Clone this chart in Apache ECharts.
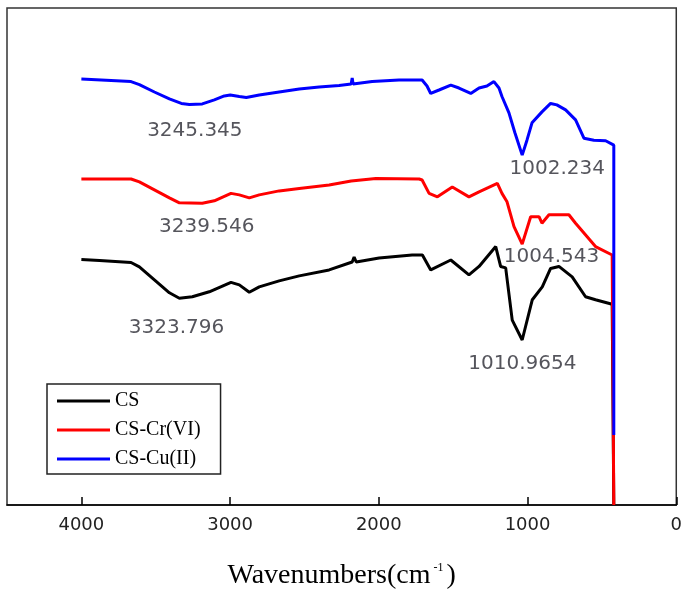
<!DOCTYPE html>
<html><head><meta charset="utf-8">
<script src="https://cdn.jsdelivr.net/npm/echarts@6/dist/echarts.min.js"></script>
<style>html,body{margin:0;padding:0;background:#fff}#c{width:685px;height:595px}</style>
</head><body><div id="c"></div>
<script>
// Series names and colours
const seriesNames = ['CS', 'CS-Cr(VI)', 'CS-Cu(II)'];
const seriesColors = ['#000000', '#ff0000', '#0000ff'];

// CS (black) — wavenumber (cm-1) and transmittance (arb. units)
const csWave = [4000, 3878, 3666, 3610, 3509, 3408, 3341, 3254, 3140, 2994, 2938, 2871, 2804, 2670, 2535, 2334, 2179, 2166, 2152, 1998, 1776, 1707, 1651, 1516, 1394, 1326, 1214, 1181, 1147, 1103, 1036, 968, 901, 845, 789, 700, 610, 543, 431, 420, 420];
const csT    = [49.4, 49.2, 48.8, 47.9, 45.3, 42.7, 41.6, 41.9, 42.9, 44.8, 44.3, 42.8, 43.9, 45.1, 46.1, 47.3, 48.9, 49.9, 48.9, 49.7, 50.3, 50.3, 47.3, 49.3, 46.3, 48.0, 52.0, 48.0, 47.7, 37.2, 33.2, 41.3, 43.9, 47.6, 48.0, 45.9, 41.9, 41.3, 40.4, 40.2, 0];

// CS-Cr(VI) (red)
const crWave = [4000, 3666, 3610, 3509, 3408, 3341, 3187, 3106, 2994, 2938, 2871, 2804, 2670, 2535, 2334, 2186, 2179, 2173, 2020, 1729, 1709, 1662, 1606, 1506, 1394, 1326, 1203, 1172, 1138, 1091, 1036, 979, 923, 903, 856, 722, 677, 543, 431, 420, 420];
const crT    = [65.6, 65.6, 65.0, 63.4, 61.8, 60.8, 60.7, 61.2, 62.7, 62.4, 61.8, 62.4, 63.2, 63.7, 64.4, 65.2, 65.6, 65.1, 65.7, 65.6, 65.4, 62.7, 62.0, 64.0, 62.0, 63.0, 64.7, 62.7, 61.0, 56.0, 52.5, 58.0, 58.0, 56.7, 58.4, 58.4, 56.7, 52.0, 50.3, 50.1, 0];

// CS-Cu(II) (blue)
const cuWave = [4000, 3666, 3610, 3509, 3408, 3328, 3274, 3187, 3106, 3039, 2999, 2938, 2891, 2804, 2670, 2535, 2401, 2267, 2186, 2179, 2173, 2045, 1864, 1729, 1709, 1676, 1651, 1595, 1516, 1461, 1382, 1326, 1273, 1226, 1192, 1172, 1125, 1085, 1036, 1004, 970, 903, 845, 803, 744, 677, 621, 554, 475, 420, 420];
const cuT    = [85.7, 85.2, 84.6, 83.1, 81.7, 80.8, 80.6, 80.7, 81.5, 82.3, 82.5, 82.2, 82.0, 82.5, 83.1, 83.7, 84.1, 84.4, 84.7, 85.9, 84.7, 85.2, 85.5, 85.5, 85.5, 84.3, 82.8, 83.5, 84.5, 83.9, 82.8, 83.9, 84.3, 85.2, 83.9, 82.2, 78.9, 74.9, 70.4, 73.4, 76.9, 79.1, 80.8, 80.5, 79.5, 77.5, 73.8, 73.4, 73.3, 72.4, 14.1];

// Peak annotations (text, wavenumber position, transmittance position)
const peakText = ['3245.345', '3239.546', '3323.796', '1002.234', '1004.543', '1010.9654'];
const peakWave = [3237, 3157, 3360, 800, 839, 1035];
const peakT    = [75.3, 55.9, 35.6, 67.6, 50.0, 28.5];

// Axis
const xMin = 0, xMax = 4500, xInterval = 1000;
const xTickLabels = ['0', '1000', '2000', '3000', '4000'];
const xTitle = 'Wavenumbers(cm';

const zip = (a, b) => a.map((v, i) => [v, b[i]]);
const waves = [csWave, crWave, cuWave];
const vals = [csT, crT, cuT];

const lineSeries = seriesNames.map((n, i) => ({
  name: n, type: 'line', data: zip(waves[i], vals[i]),
  showSymbol: false, symbol: 'none', smooth: false, z: 2 + i,
  lineStyle: { color: seriesColors[i], width: 3 },
  itemStyle: { color: seriesColors[i] }
}));

const labelSeries = {
  name: 'peaks', type: 'scatter', silent: true, z: 10,
  symbolSize: 1, itemStyle: { color: 'rgba(0,0,0,0)' },
  data: peakWave.map((w, i) => [w, peakT[i], peakText[i]]),
  label: {
    show: true, position: 'inside', formatter: p => p.data[2],
    fontFamily: 'DejaVu Sans', fontSize: 20, color: '#2a2a33'
  }
};

const chart = echarts.init(document.getElementById('c'), null, { renderer: 'canvas' });
chart.setOption({
  backgroundColor: '#ffffff',
  animation: false,
  grid: { left: 7, right: 8, top: 8, bottom: 90, show: true, borderColor: '#333', borderWidth: 1.5 },
  legend: {
    data: seriesNames, orient: 'vertical', left: 47, top: 384,
    padding: [7, 20, 5, 10], itemGap: 9, itemWidth: 53, itemHeight: 3,
    icon: 'rect', borderColor: '#222', borderWidth: 1.5,
    textStyle: { fontFamily: 'Liberation Serif', fontSize: 20, color: '#000' }
  },
  xAxis: {
    type: 'value', min: xMin, max: xMax, interval: xInterval, inverse: true,
    axisLine: { show: true, lineStyle: { color: '#000', width: 1.5 } },
    axisTick: { show: true, inside: true, length: 8, lineStyle: { color: '#000', width: 1.5 } },
    splitLine: { show: false },
    axisLabel: {
      margin: 11, fontFamily: 'DejaVu Sans', fontSize: 18, color: '#222',
      showMaxLabel: false,
      formatter: v => xTickLabels.indexOf(String(v)) >= 0 ? String(v) : ''
    },
    name: '{a|' + xTitle + '}{b|-1}{a|)}', nameLocation: 'middle', nameGap: 57,
    nameTextStyle: {
      rich: {
        a: { fontFamily: 'Liberation Serif', fontSize: 28, color: '#000' },
        b: { fontFamily: 'Liberation Serif', fontSize: 12, color: '#000', verticalAlign: 'top', padding: [0, 3, 0, 3] }
      }
    }
  },
  yAxis: { type: 'value', min: 0, max: 100, show: false, splitLine: { show: false } },
  series: [...lineSeries, labelSeries]
});
</script></body></html>
